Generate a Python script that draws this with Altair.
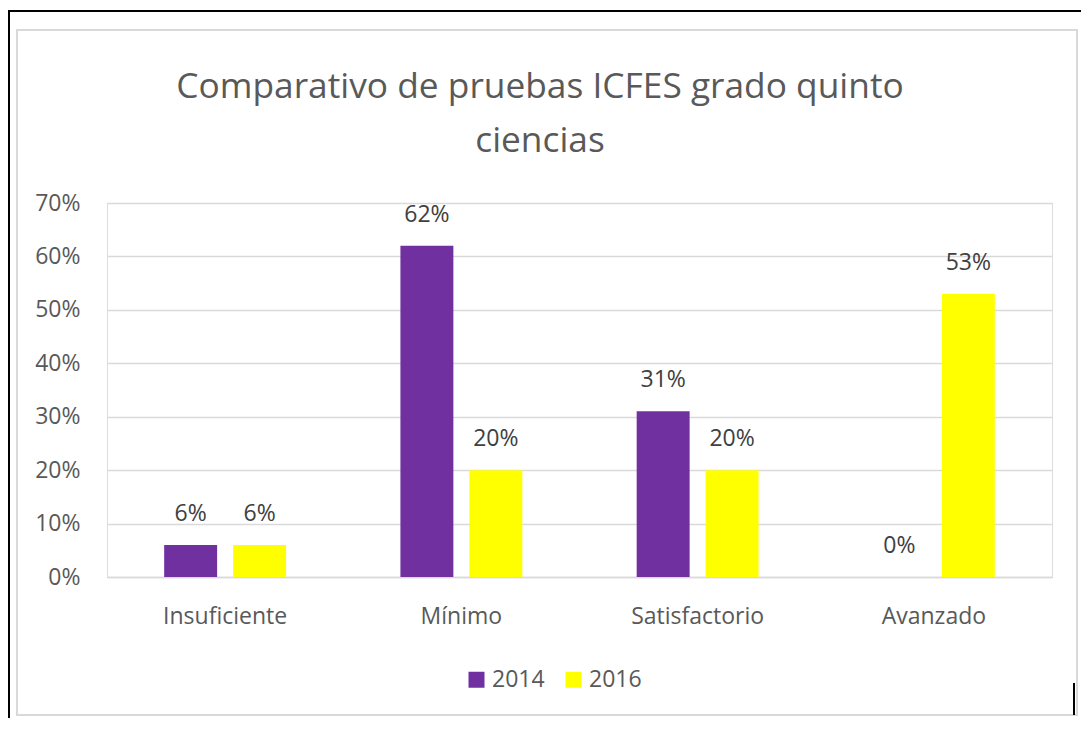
import altair as alt
import pandas as pd

categories = ["Insuficiente", "Mínimo", "Satisfactorio", "Avanzado"]
years = ["2014", "2016"]
values_2014 = [0.06, 0.62, 0.31, 0.00]
values_2016 = [0.06, 0.20, 0.20, 0.53]
y_ticks = [0.0, 0.1, 0.2, 0.3, 0.4, 0.5, 0.6, 0.7]
title_lines = ["Comparativo de pruebas ICFES grado quinto", "ciencias"]
bar_colors = ["#7030A0", "#FFFF00"]

rows = []
for c, a, b in zip(categories, values_2014, values_2016):
    rows.append({"categoria": c, "anio": years[0], "valor": a})
    rows.append({"categoria": c, "anio": years[1], "valor": b})
df = pd.DataFrame(rows)

FONT = "Open Sans"
GRID = "#d9d9d9"
LABEL = "#595959"

x = alt.X(
    "categoria:N",
    sort=categories,
    scale=alt.Scale(paddingInner=0.484, paddingOuter=0.242),
    axis=alt.Axis(
        title=None, labelAngle=0, ticks=False, grid=False,
        domainColor=GRID, domainWidth=1.5,
        labelFontSize=23, labelColor=LABEL, labelFont=FONT,
        labelBaseline="alphabetic", labelPadding=46,
    ),
)
xo = alt.XOffset("anio:N", sort=years, scale=alt.Scale(paddingInner=0.232, paddingOuter=0))
y = alt.Y(
    "valor:Q",
    scale=alt.Scale(domain=[0, 0.7], nice=False),
    axis=alt.Axis(
        title=None, values=y_ticks, format=".0%", domain=False, ticks=False,
        gridColor=GRID, gridWidth=1.5,
        labelFontSize=23, labelColor=LABEL, labelFont=FONT, labelPadding=27,
    ),
)
color = alt.Color(
    "anio:N",
    sort=years,
    scale=alt.Scale(domain=years, range=bar_colors),
    legend=alt.Legend(
        title=None, orient="none", direction="horizontal",
        legendX=358, legendY=465, padding=0,
        symbolType="square", symbolSize=256, symbolStrokeWidth=0,
        labelFontSize=23, labelColor=LABEL, labelFont=FONT,
        labelOffset=4, columnPadding=17,
    ),
)

bars = alt.Chart(df).mark_bar().encode(x=x, xOffset=xo, y=y, color=color)

labels = alt.Chart(df).mark_text(
    baseline="alphabetic", dy=-24, fontSize=23, font=FONT, color="#404040"
).encode(
    x=alt.X("categoria:N", sort=categories),
    xOffset=alt.XOffset("anio:N", sort=years),
    y="valor:Q",
    text=alt.Text("valor:Q", format=".0%"),
)

deco = alt.Data(values=[{}])
title = alt.Chart(deco).mark_text(
    text=title_lines, align="center", baseline="alphabetic", lineHeight=54,
    fontSize=35.3, font=FONT, color=LABEL,
).encode(x=alt.value(433), y=alt.value(-105))

frame = alt.Chart(deco).mark_rect(fillOpacity=0, stroke=GRID, strokeWidth=2).encode(
    x=alt.value(-90), x2=alt.value(970), y=alt.value(-173), y2=alt.value(512)
)
top_line = alt.Chart(deco).mark_rule(color="black", strokeWidth=2).encode(
    x=alt.value(-99), x2=alt.value(974), y=alt.value(-192)
)
left_line = alt.Chart(deco).mark_rule(color="black", strokeWidth=2).encode(
    x=alt.value(-98), y=alt.value(-192), y2=alt.value(515)
)
right_line = alt.Chart(deco).mark_rule(color="black", strokeWidth=2).encode(
    x=alt.value(967), y=alt.value(480), y2=alt.value(512)
)

chart = alt.layer(frame, top_line, left_line, right_line, title, bars, labels).properties(
    width=945,
    height=374,
    autosize=alt.AutoSizeParams(type="none"),
    padding={"left": 99, "top": 195, "right": 29, "bottom": 141},
).configure_view(strokeWidth=0).configure(background="white")

chart.save("out.html", embed_options={"renderer": "svg", "actions": False})
